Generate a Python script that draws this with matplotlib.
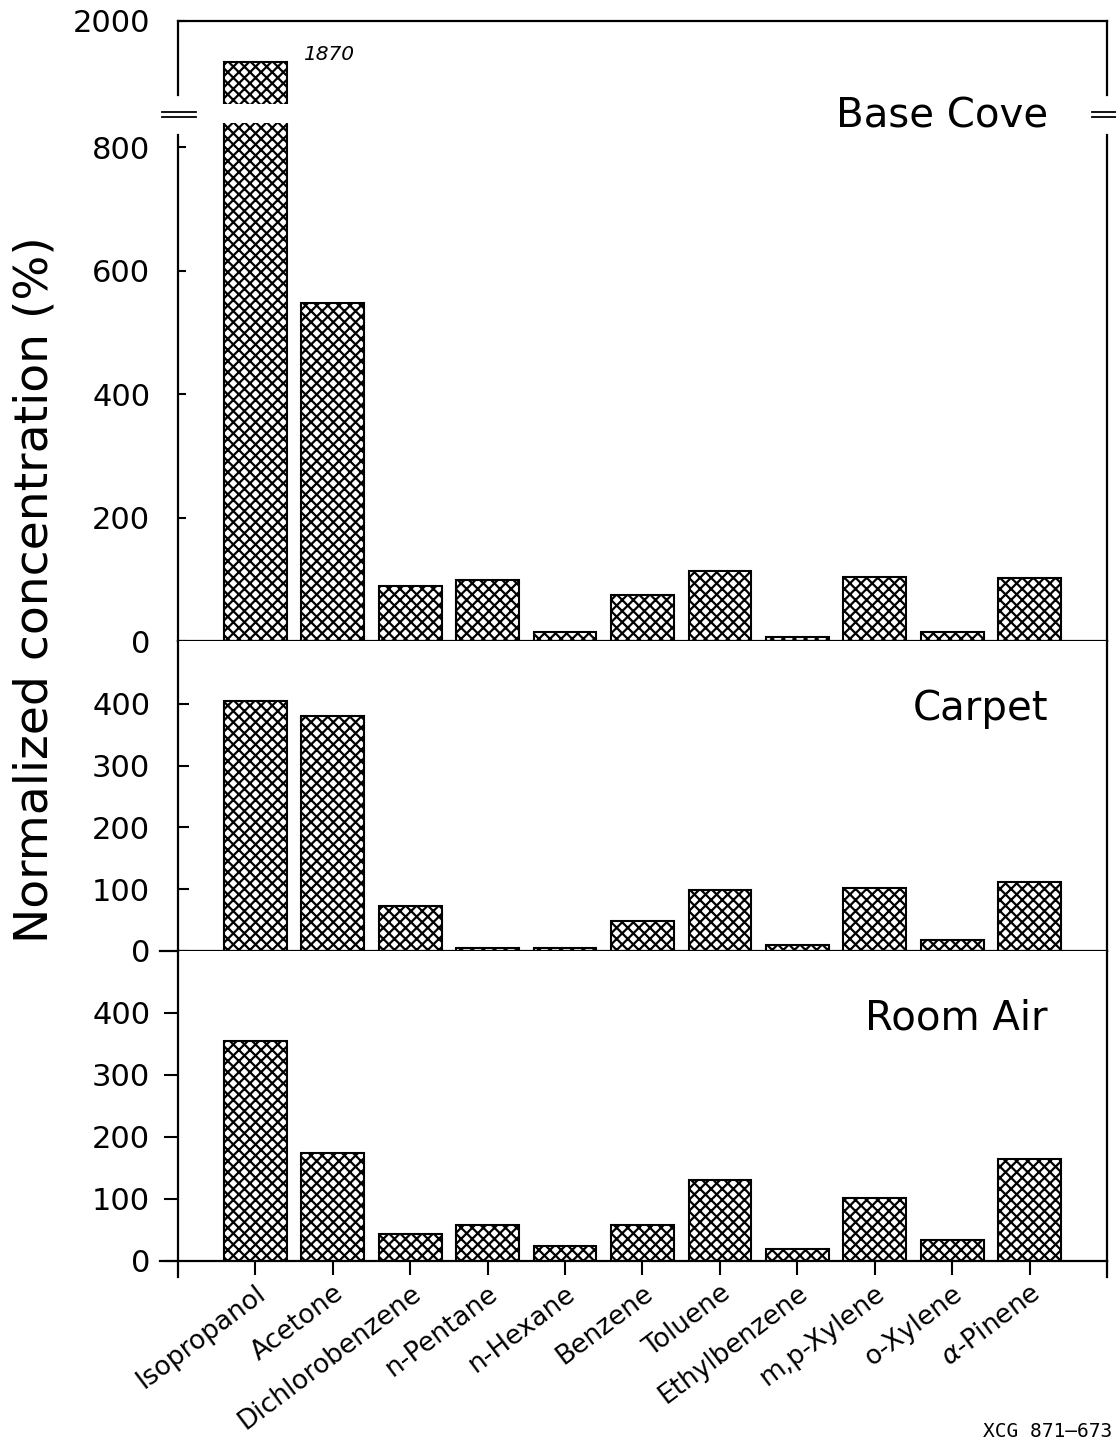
import numpy as np
import matplotlib
matplotlib.use("Agg")
import matplotlib.pyplot as plt
from matplotlib.lines import Line2D

# Data (normalized concentration, %)
compounds = ["Isopropanol", "Acetone", "Dichlorobenzene", "n-Pentane", "n-Hexane",
             "Benzene", "Toluene", "Ethylbenzene", "m,p-Xylene", "o-Xylene",
             r"$\alpha$-Pinene"]
base_cove = [1870, 547, 89, 99, 15, 74, 113, 6, 104, 15, 102]
carpet = [405, 381, 73, 5, 5, 49, 99, 10, 102, 18, 112]
room_air = [355, 174, 44, 58, 24, 58, 131, 19, 102, 34, 165]
panel_names = ["Base Cove", "Carpet", "Room Air"]

plt.rcParams["font.family"] = ["DejaVu Sans"]
plt.rcParams["hatch.linewidth"] = 1.6
plt.rcParams["axes.linewidth"] = 1.6

W, H = 1116, 1447
fig = plt.figure(figsize=(W / 100, H / 100), dpi=100)


def rect(top, bottom, left=178, right=1107):
    return [left / W, 1 - bottom / H, (right - left) / W, (bottom - top) / H]


def fx(px):
    return px / W


def fy(py):
    return 1 - py / H


x = np.arange(len(compounds))
bar_kw = dict(width=0.81, color="white", edgecolor="black", hatch="xxx",
              linewidth=1.5, zorder=2)

ax_hi = fig.add_axes(rect(21, 104))
ax_top = fig.add_axes(rect(123, 641))
ax_mid = fig.add_axes(rect(641, 951))
ax_bot = fig.add_axes(rect(951, 1261))

for ax in (ax_hi, ax_top, ax_mid, ax_bot):
    ax.bar(x, base_cove if ax in (ax_hi, ax_top) else
           (carpet if ax is ax_mid else room_air), **bar_kw)
    ax.set_xlim(-1.0, 11.0)
    ax.tick_params(axis="y", labelsize=22, width=1.5)
    ax.spines["top"].set_visible(False)

# upper piece of the broken top panel
ax_hi.set_ylim(1737, 2000)
ax_hi.set_yticks([2000])
ax_hi.spines["top"].set_visible(True)
ax_hi.spines["bottom"].set_visible(False)
ax_hi.spines["left"].set_bounds(1765, 2000)
ax_hi.spines["right"].set_bounds(1765, 2000)
ax_hi.tick_params(axis="y", direction="in", length=6, pad=20)
ax_hi.set_xticks([])
ax_hi.text(0.61, 1876, "1870", style="italic", fontsize=14.5, va="baseline")

# lower piece of top panel
ax_top.set_ylim(0, 839)
ax_top.set_yticks([0, 200, 400, 600, 800])
ax_top.spines["left"].set_bounds(0, 820)
ax_top.spines["right"].set_bounds(0, 820)
ax_top.tick_params(axis="y", direction="in", length=6, pad=20)
ax_top.set_xticks([])

ax_mid.set_ylim(0, 502)
ax_mid.set_yticks([0, 100, 200, 300, 400])
ax_mid.tick_params(axis="y", direction="in", length=8, pad=20)
ax_mid.set_xticks([])

ax_bot.set_ylim(0, 500)
ax_bot.set_yticks([0, 100, 200, 300, 400])
ax_bot.tick_params(axis="y", direction="out", length=10, pad=10)
ax_bot.set_xticks(x)
ax_bot.set_xticklabels(compounds, rotation=37, ha="right", va="top",
                       rotation_mode="anchor", fontsize=19)
ax_bot.tick_params(axis="x", direction="out", length=10, width=1.5, pad=4)

# axis break marks
for xs in ([162, 196], [1092, 1116]):
    for yy in (112, 117):
        fig.add_artist(Line2D([fx(xs[0]), fx(xs[1])], [fy(yy), fy(yy)],
                              color="black", lw=1.3))

# extensions of the frame below / left of the bottom axis
for seg in (([160, 178], [1261, 1261]), ([178, 178], [1261, 1277]),
            ([1107, 1107], [1261, 1277]), ([160, 178], [951, 951])):
    fig.add_artist(Line2D([fx(seg[0][0]), fx(seg[0][1])],
                          [fy(seg[1][0]), fy(seg[1][1])], color="black", lw=1.6))

# panel titles
for name, base in zip(panel_names, (127, 720, 1030)):
    fig.text(fx(1048), fy(base), name, fontsize=29, ha="right", va="baseline")

fig.text(fx(35), fy(590), "Normalized concentration (%)", rotation=90,
         fontsize=34, ha="center", va="center")
fig.text(fx(1112), fy(1437), "XCG 871\u2013673", family="DejaVu Sans Mono",
         fontsize=14, ha="right", va="baseline")

fig.savefig("out.png", dpi=100)
